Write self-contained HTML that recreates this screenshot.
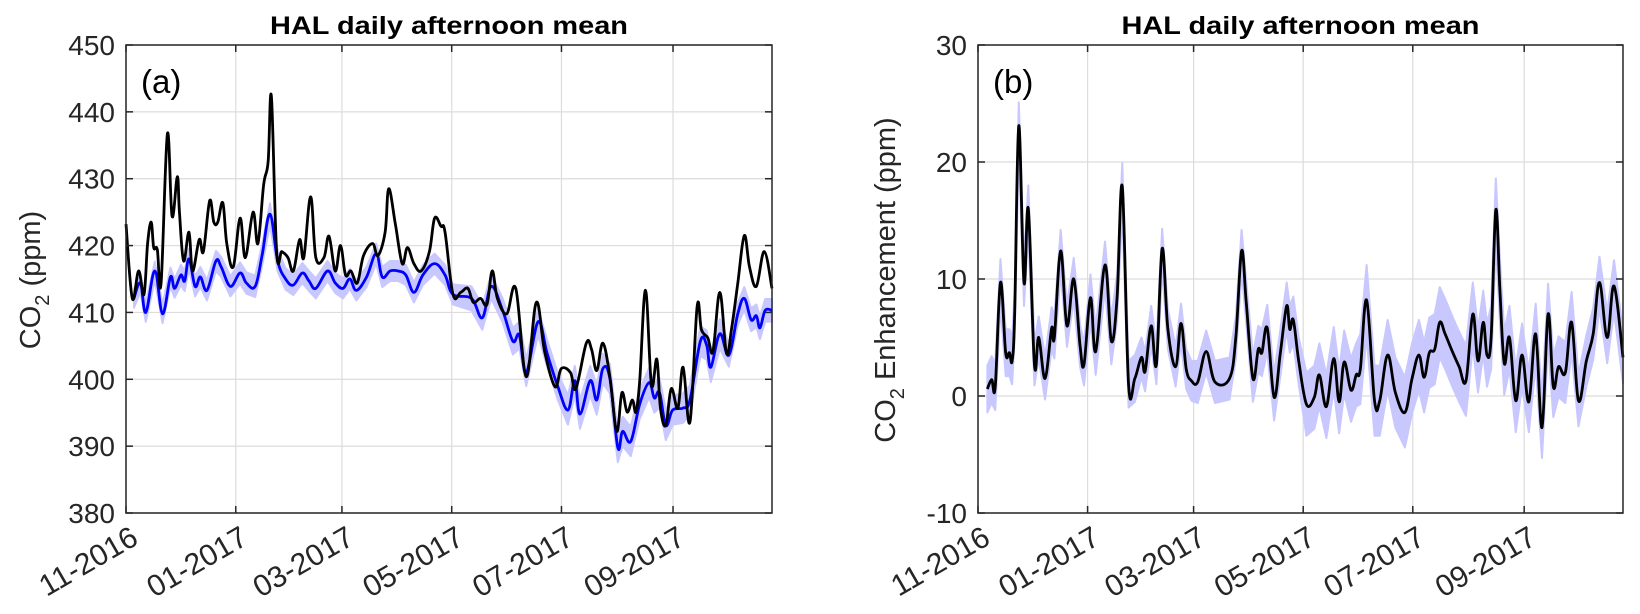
<!DOCTYPE html>
<html><head><meta charset="utf-8"><style>
html,body{margin:0;padding:0;background:#fff;}
svg{display:block;font-family:"Liberation Sans",Arial,sans-serif;}
</style></head><body>
<svg id="fig" width="1640" height="614" viewBox="0 0 1640 614" xmlns="http://www.w3.org/2000/svg"></svg>
<script>
// ---- Panel (a) data: day offset from 2016-11-01, CO2 ppm ----
const obsDaysA = [0,3.5,7,10,12,14,15.4,17.4,19.5,23,25.6,28.5,29.7,32,35,37,40.7,43,46.5,48.8,51,53.8,56,59.6,63.4,66.3,70.6,73.3,76.5,79,80.8,83.7,86.6,90,93,96.5,98.8,102.6,105.5,110,112.8,116.3,119.2,122,125,128.5,132,137,140,144,146,149.7,153.5,156.4,160,164,168.6,171.5,175,177.3,181.7,186,190,193,197,200.6,203.5,206.4,211.6,216.6,222.4,228,232.6,238.4,241.9,247,250,255.8,258.7,261.6,265,268.9,272.7,275.6,278.5,281.4,283.4,285.5,288.7,292,295,297,300,303,306.7,309.6,313.4,317.4,319.8,323.3,326.2,330,333.7,336.6,340,343.6,346.5,350.3,354.7,359];
const obsValsA = [423.2,412.1,416.2,412.7,420.3,423.5,419.7,419.4,414.4,436.7,424.4,430.3,425,417.7,422,416.2,420.9,419.1,426.7,423.5,423.5,426.4,420.3,416.8,424.1,418.2,425,420.3,429.1,432.6,442.3,419.1,419.1,418.2,416.2,420.9,418.2,427.3,418.2,418.2,421.4,416.2,420,415.6,416.2,414.4,418.5,420.3,418.5,422,428.5,423.2,417.3,419.7,417.3,416.2,419.1,424.1,422.9,422,412.7,413,413.6,411.5,412.1,411.2,416.2,412.1,409.8,413.6,400.4,411.5,404.2,398.9,401.6,401,398.6,405.4,404.5,401.3,405.4,400.4,392.2,398,395.1,396.9,395.1,399.8,413.3,399.2,403,395.7,393.1,398.6,395.7,401.8,393.6,410.9,407.4,406.2,404.2,413,403.9,407.7,414.4,421.5,416.8,413.9,419.1,413.6];
const modDaysA = [4.4,8,11,16,20.3,24.7,27,30.5,32.6,35,38.4,41.3,45,50,52.9,58,63.4,66.9,71.8,75.6,80,84.3,88.7,93,98,101.7,105.5,112,116.3,120.6,124.4,128,133.7,139,142.4,146.8,151.2,155.5,160,165,171.5,177.3,181.7,192,198,203,209.3,215,218.6,222.4,229,234,240,245.6,249.4,252.3,258,261.6,265,268.9,273.3,276,280.5,285.5,290.7,293.6,296.5,300,303.8,309.6,313.4,319.2,322.7,325,330,335,340,343.6,347.4,350.3,352.3,355.2,359];
const modValsA = [412.1,414.4,410,416.2,409.8,415.3,413.6,415.6,414.7,418,413.9,415.3,413.3,417.7,416.8,413.9,415.9,414.4,413.9,418.5,424.7,417.7,415,414.1,415.9,414.7,413.6,416.2,414.4,413.6,415,413.3,415.3,418.8,415.3,416.2,416.2,415.6,413,415.6,417.3,415.6,412.7,412.1,409.2,413.9,410.3,405.7,406.6,401,408.6,403.9,398.9,395.4,399.8,394.8,399.8,396.9,401.6,400.1,389.8,392.2,390.7,396.3,399.5,397.2,398,393.1,395.4,395.7,396.9,405.7,405.1,401.8,406.8,403.6,409.8,412.1,408.9,409.5,407.7,410.3,410.3];
const modSpreadA = [1.4,1.5,1.6,1.5,1.5,1.5,1.8,2.0,2.2,2.2,2.2,1.7]; // per month
const yTicksA = [380,390,400,410,420,430,440,450];

// ---- Panel (b) data: CO2 enhancement ppm ----
const enhDaysB = [5.2,7.6,9.6,12.5,15.4,17.5,19,20.4,22.7,25.6,28,31.4,33.8,37.3,41,42.5,46,49.5,53.3,56.8,59,62.6,65.5,70.7,74.2,77.4,80.3,83.8,87.3,91,93,96.4,99.3,102.5,105.7,110,113,115.9,118.8,122.3,127,131.9,140,143.5,146.7,149.3,153,156,158,161,164.8,168.3,171.8,173.5,175.5,178.5,182.8,187.2,190,193.9,198,201,203.8,207.6,210.5,212.8,216.3,220.7,223.6,228,232.3,237.6,241.6,245.4,248.3,251.2,254.2,257,260,264.3,267.8,271.6,275.4,278.3,281.2,283.3,285.6,288.2,290.5,292.9,295.8,299.3,302.8,306.6,310.4,313.9,317.3,320.2,323.1,326.9,330.4,334.2,338.6,342.4,345.9,350.2,354,359];
const enhValsB = [0.6,1.4,0.8,9.7,3.7,3.7,3,7,23.1,9.7,16,2.7,5,1.5,5.8,5,12.4,6,10,4.3,2.7,8.4,3.8,11.2,4.7,8.4,17.9,1,1.5,3.3,2.1,6,2.7,12.6,5.7,2.5,6.2,2.3,1.3,1.2,3.8,1.2,1.5,5,12.4,8,1.5,4,3.7,5.8,-0.1,3.7,7.7,5.7,6.5,3,-0.7,-0.1,1.8,-0.9,3.2,-0.5,2.9,0.5,1.8,2.3,8.2,-0.4,-0.4,3.5,0.3,-1.4,1.5,3.5,1.6,3.7,4,6.3,5.3,3.7,2.5,1.3,7,3,6.3,3.5,5,15.9,9,2.8,5,-0.4,3.5,-0.5,5.3,-2.7,7,0.8,2.5,2,6.3,-0.4,3,5.3,9.7,5,9.4,3.3];
const enhSpreadB = [2.0,1.8,2.0,1.7,1.8,2.0,2.7,3.0,3.0,2.7,2.6,2.2]; // per month
const yTicksB = [-10,0,10,20,30];

// ---- shared x axis ----
const xTickDays = [0,61,120,181,242,304];
const xTickLabels = ["11-2016","01-2017","03-2017","05-2017","07-2017","09-2017"];
const xMaxDay = 359;

const NS = "http://www.w3.org/2000/svg";
const svg = document.getElementById("fig");
function mk(tag, attrs, parent){
  const e = document.createElementNS(NS, tag);
  for (const k in attrs) e.setAttribute(k, attrs[k]);
  (parent||svg).appendChild(e);
  return e;
}
function monthOf(d){ return Math.min(11, Math.floor(d/30.3)); }
function smoothPath(P){
  let s = "M"+P[0][0]+","+P[0][1];
  for (let i=0;i<P.length-1;i++){
    const p0=P[Math.max(0,i-1)], p1=P[i], p2=P[i+1], p3=P[Math.min(P.length-1,i+2)];
    const t=0.18;
    s += " C"+(p1[0]+(p2[0]-p0[0])*t)+","+(p1[1]+(p2[1]-p0[1])*t)+" "+(p2[0]-(p3[0]-p1[0])*t)+","+(p2[1]-(p3[1]-p1[1])*t)+" "+p2[0]+","+p2[1];
  }
  return s;
}

function panel(opt){
  const g = mk("g", {});
  
  
  const L=opt.L, R=opt.R, T=45, B=513;
  const xs = d => L + d*(R-L)/xMaxDay;
  const ys = v => T + (opt.yMax - v)*(B-T)/(opt.yMax-opt.yMin);
  const grid = mk("g", {stroke:"#dcdcdc","stroke-width":1.2}, g);
  
  
  opt.yTicks.forEach(v=>{ mk("line",{x1:L,x2:R,y1:ys(v),y2:ys(v)},grid); });
  xTickDays.forEach(d=>{ mk("line",{x1:xs(d),x2:xs(d),y1:T,y2:B},grid); });
  const bd = opt.bandDays, bv = opt.bandVals, sp = opt.spread;
  let pts = [];
  for (let i=0;i<bd.length;i++) pts.push(xs(bd[i])+","+ys(bv[i]+sp[monthOf(bd[i])]));
  for (let i=bd.length-1;i>=0;i--) pts.push(xs(bd[i])+","+ys(bv[i]-sp[monthOf(bd[i])]));
  const band = mk("polygon",{points:pts.join(" "),fill:"#c8c8ff",stroke:"#c8c8ff","stroke-width":2,"stroke-linejoin":"round"},g);
  
  
  opt.lines.forEach(ln=>{
    const P = ln.days.map((d,i)=>[xs(d),ys(ln.vals[i])]);
    const pl = mk("path",{d:smoothPath(P),fill:"none",stroke:ln.color,"stroke-width":2.8,"stroke-linejoin":"round"},g);
    
    
  });
  const box = mk("rect",{x:L,y:T,width:R-L,height:B-T,fill:"none",stroke:"#262626","stroke-width":1.5},g);
  
  
  opt.yTicks.forEach(v=>{
    const y = ys(v);
    mk("line",{x1:L,x2:L+7,y1:y,y2:y,stroke:"#262626","stroke-width":1.5},g);
    mk("line",{x1:R-7,x2:R,y1:y,y2:y,stroke:"#262626","stroke-width":1.5},g);
    const t = mk("text",{x:L-11,y:y+10,"text-anchor":"end","font-size":28,fill:"#262626"},g);
    t.textContent = v;
    
    
  });
  xTickDays.forEach((d,i)=>{
    const x = xs(d);
    mk("line",{x1:x,x2:x,y1:B-7,y2:B,stroke:"#262626","stroke-width":1.5},g);
    mk("line",{x1:x,x2:x,y1:T,y2:T+7,stroke:"#262626","stroke-width":1.5},g);
    const ax = x+14, ay = B+30;
    const t = mk("text",{x:ax,y:ay,"text-anchor":"end","font-size":30,fill:"#262626",transform:"rotate(-30 "+ax+" "+ay+")"},g);
    t.textContent = xTickLabels[i];
    
    
  });
  const tt = mk("text",{x:(L+R)/2,y:34,"text-anchor":"middle","font-size":25,"font-weight":"bold",fill:"#000",textLength:358,lengthAdjust:"spacingAndGlyphs"},g);
  tt.textContent = "HAL daily afternoon mean";
  
  
  const pl = mk("text",{x:L+15,y:93,"font-size":33,fill:"#000"},g);
  pl.textContent = opt.letter;
  
  
  const yl = mk("text",{x:0,y:0,"text-anchor":"middle","font-size":29,fill:"#262626",transform:"translate("+opt.ylx+",280) rotate(-90)"},g);
  
  
  const a = mk("tspan",{},yl); a.textContent="CO";
  const s = mk("tspan",{dy:9,"font-size":20},yl); s.textContent="2";
  const b = mk("tspan",{dy:-9},yl); b.textContent=" "+opt.ylabel;
}

panel({name:"panel-a-co2", L:126, R:772, yMin:380, yMax:450, yTicks:yTicksA, letter:"(a)", ylx:40, ylabel:"(ppm)",
  bandDays:modDaysA, bandVals:modValsA, spread:modSpreadA,
  lines:[{name:"modeled-co2-line",days:modDaysA,vals:modValsA,color:"#0000ff"},
         {name:"observed-co2-line",days:obsDaysA,vals:obsValsA,color:"#000"}]});
panel({name:"panel-b-enhancement", L:978, R:1623, yMin:-10, yMax:30, yTicks:yTicksB, letter:"(b)", ylx:895, ylabel:"Enhancement (ppm)",
  bandDays:enhDaysB, bandVals:enhValsB, spread:enhSpreadB,
  lines:[{name:"enhancement-line",days:enhDaysB,vals:enhValsB,color:"#000"}]});
</script>
</body></html>
